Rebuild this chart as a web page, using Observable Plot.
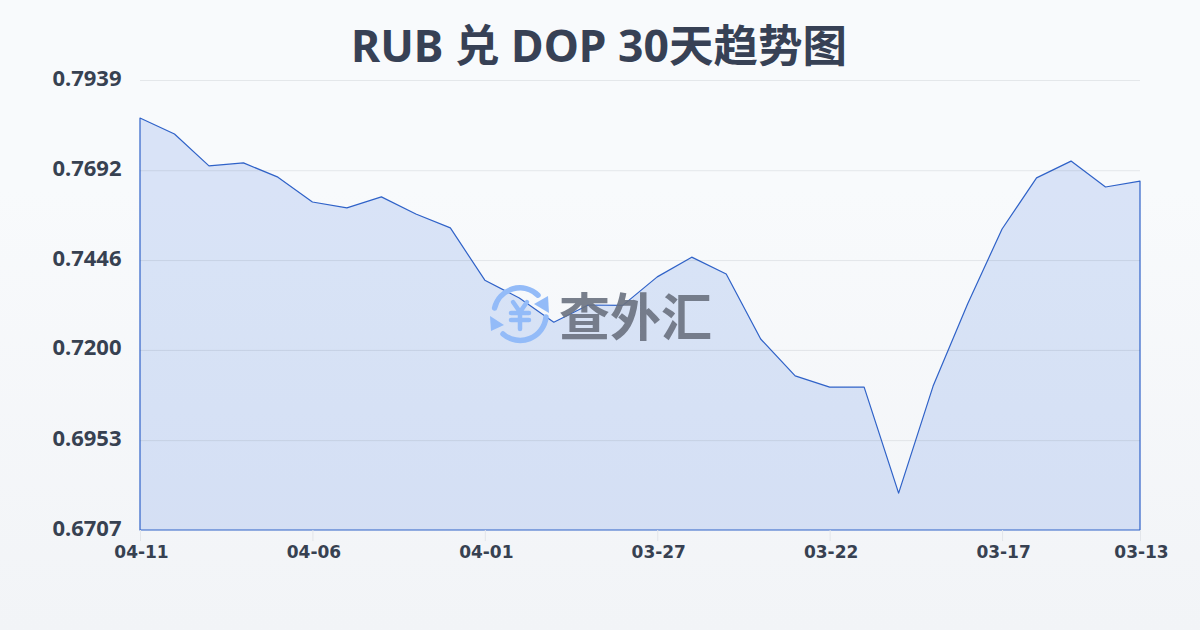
<!DOCTYPE html>
<html lang="zh">
<head>
<meta charset="utf-8">
<script src="https://cdn.jsdelivr.net/npm/d3@7"></script>
<script src="https://cdn.jsdelivr.net/npm/@observablehq/plot@0.6"></script>
<style>
html,body{margin:0;padding:0;width:1200px;height:630px;overflow:hidden;}
body{background:linear-gradient(180deg,#f8fafc 0%,#f8fafc 30%,#f2f4f7 100%);font-family:"Noto Sans","Noto Sans CJK SC",sans-serif;position:relative;}
#title{height:50px;padding-top:15px;box-sizing:border-box;line-height:60px;text-align:center;font-size:44.5px;font-weight:700;color:#374155;font-family:"Noto Sans","Noto Sans CJK SC",sans-serif;white-space:pre;margin-left:-2px;}
#chart{height:580px;}
#chart svg{display:block;background:transparent;}
#wm{position:absolute;left:488px;top:284px;width:240px;height:62px;pointer-events:none;}
#wm svg{position:absolute;left:0;top:0;}
#wm span{position:absolute;left:71px;top:-9px;line-height:78px;font-size:51px;font-weight:700;color:#6b7280;opacity:.9;font-family:"Noto Sans CJK SC",sans-serif;white-space:pre;}
</style>
</head>
<body>
<div id="title">RUB 兑 DOP 30天趋势图</div>
<div id="chart"></div>
<div id="wm">
<svg width="64" height="62" viewBox="0 0 64 62" fill="none">
<g stroke="#93bbf8" stroke-width="5.5" stroke-linecap="round">
<path d="M6.6 24 A26 26 0 0 1 50 11.2"/>
<path d="M58 33 A26 26 0 0 1 15 50"/>
<path d="M25 18 L32 28 L39 18 M32 28 L32 45 M23 29 L41 29 M23 36 L41 36" stroke-width="4.5"/>
</g>
<path d="M60 12 L61 29 L46 20 Z" fill="#93bbf8"/>
<path d="M2 32 L3 47 L16 41 Z" fill="#93bbf8"/>
</svg>
<span>查外汇</span>
</div>
<script>
const dates = ["04-11","04-10","04-09","04-08","04-07","04-06","04-05","04-04","04-03","04-02",
  "04-01","03-31","03-30","03-29","03-28","03-27","03-26","03-25","03-24","03-23",
  "03-22","03-21","03-20","03-19","03-18","03-17","03-16","03-15","03-14","03-13"];
const rates = [0.7835,0.7791,0.7704,0.7712,0.7673,0.7605,0.7589,0.7619,0.7572,0.7534,
  0.7391,0.7342,0.7276,0.7323,0.7322,0.7400,0.7454,0.7408,0.7230,0.7129,
  0.7098,0.7098,0.6808,0.7101,0.7326,0.7531,0.7671,0.7717,0.7646,0.7662];
const yTicks = [0.6707,0.6953,0.7200,0.7446,0.7692,0.7939];
const xTicks = ["04-11","04-06","04-01","03-27","03-22","03-17","03-13"];
const table = dates.map((d,i)=>({date:d,rate:rates[i]}));
const fontFamily = '"Noto Sans","Noto Sans CJK SC",sans-serif';

const chart = Plot.plot({
  width:1200,height:580,
  marginLeft:140,marginRight:60,marginTop:30,marginBottom:100,
  style:{background:"transparent",fontFamily},
  x:{type:"point",domain:dates,padding:0,round:false,label:null},
  y:{domain:[0.6707,0.7939],label:null},
  marks:[
    Plot.areaY(table,{x:"date",y1:0.6707,y2:"rate",fill:"#3a70e0",fillOpacity:0.16,stroke:"#2f62c8",strokeWidth:1.2}),
    Plot.ruleY(yTicks.slice(1),{stroke:"#374151",strokeOpacity:0.1,strokeWidth:1}),
    Plot.ruleX(xTicks,{x:d=>d,y1:0.6707,y2:0.6707,stroke:"#e2e5ea",insetBottom:-11,strokeWidth:1}),
    Plot.axisY(yTicks,{tickSize:0,tickPadding:19,dy:-2,tickFormat:d=>d.toFixed(4),fontSize:22,fontWeight:700,fill:"#374151",label:null}),
    Plot.axisX(xTicks,{tickSize:0,tickPadding:15,dx:1,fontSize:17,fontWeight:700,fill:"#374151",fontFamily:'"DejaVu Sans",sans-serif',label:null})
  ]
});
document.getElementById("chart").appendChild(chart);
</script>
</body>
</html>
